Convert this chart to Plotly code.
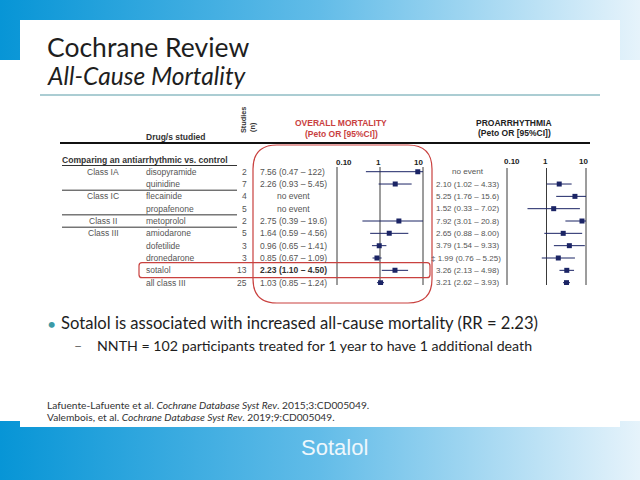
import math
import plotly.graph_objects as go

W, H = 640, 480

# ---------------- data ----------------
title_main = "Cochrane Review"
title_sub = "All-Cause Mortality"
footer_title = "Sotalol"

class_labels = ["Class IA", "", "Class IC", "", "Class II", "Class III", "", "", "", ""]
drugs = ["disopyramide", "quinidine", "flecainide", "propafenone", "metoprolol",
         "amiodarone", "dofetilide", "dronedarone", "sotalol", "all class III"]
studies = [2, 7, 4, 5, 2, 5, 3, 3, 13, 25]

mort_or = [7.56, 2.26, None, None, 2.75, 1.64, 0.96, 0.85, 2.23, 1.03]
mort_lo = [0.47, 0.93, None, None, 0.39, 0.59, 0.65, 0.67, 1.10, 0.85]
mort_hi = [122, 5.45, None, None, 19.6, 4.56, 1.41, 1.09, 4.50, 1.24]

pro_or = [None, 2.10, 5.25, 1.52, 7.92, 2.65, 3.79, 1.99, 3.26, 3.21]
pro_lo = [None, 1.02, 1.76, 0.33, 3.01, 0.88, 1.54, 0.76, 2.13, 2.62]
pro_hi = [None, 4.33, 15.6, 7.02, 20.8, 8.00, 9.33, 5.25, 4.98, 3.93]
pro_flag = ["", "", "", "", "", "", "", "‡ ", "", ""]

highlight_row = 8  # sotalol
axis_ticks = [0.1, 1, 10]
axis_ticktext = ["0.10", "1", "10"]

bullet_main = "Sotalol is associated with increased all-cause mortality (RR = 2.23)"
bullet_sub = "NNTH = 102 participants treated for 1 year to have 1 additional death"
refs = ["Lafuente-Lafuente et al. <i>Cochrane Database Syst Rev</i>. 2015;3:CD005049.",
        "Valembois, et al. <i>Cochrane Database Syst Rev</i>. 2019;9:CD005049."]

# ---------------- helpers ----------------
SLIDE_FONT = "Lato"
TAB_FONT = "Liberation Sans"
TAB_SIZE = 8.5
RED = "#c9413f"
NAVY = "#1b2465"


def px(x):
    return x / W


def py(y):
    return 1 - y / H


def fmt(v):
    if v >= 100:
        return f"{v:.0f}"
    if v >= 10:
        return f"{v:.1f}"
    return f"{v:.2f}"


fig = go.Figure()
annots = []
shapes = []


def text(t, x, y, size=TAB_SIZE, color="#555", xanchor="left", family=TAB_FONT,
         xref="paper", yref="paper", angle=0, xshift=0):
    annots.append(dict(text=t, x=x, y=y, xref=xref, yref=yref, showarrow=False,
                       xanchor=xanchor, yanchor="middle", textangle=angle,
                       xshift=xshift, borderpad=0,
                       font=dict(size=size, color=color, family=family)))


def hline(x0, x1, y, color="#000", width=1):
    shapes.append(dict(type="line", xref="paper", yref="paper", x0=px(x0), x1=px(x1),
                       y0=py(y), y1=py(y), line=dict(color=color, width=width)))


def rrect(x0, y0, x1, y1, r, color, width=1):
    pts = lambda X, Y: f"{px(X):.5f},{py(Y):.5f}"
    p = (f"M {pts(x0 + r, y0)} L {pts(x1 - r, y0)} Q {pts(x1, y0)} {pts(x1, y0 + r)} "
         f"L {pts(x1, y1 - r)} Q {pts(x1, y1)} {pts(x1 - r, y1)} "
         f"L {pts(x0 + r, y1)} Q {pts(x0, y1)} {pts(x0, y1 - r)} "
         f"L {pts(x0, y0 + r)} Q {pts(x0, y0)} {pts(x0 + r, y0)} Z")
    shapes.append(dict(type="path", xref="paper", yref="paper", path=p,
                       line=dict(color=color, width=width)))


# ---------------- background (pixel subplot xy) ----------------
grad = dict(type="horizontal", colorscale=[[0, "#0795d6"], [0.5, "#62bce8"], [1, "#e6f3fb"]])
for (ya, yb) in [(0, 60), (421, 480)]:
    fig.add_trace(go.Scatter(x=[0, 640, 640, 0, 0], y=[ya, ya, yb, yb, ya], mode="lines",
                             fill="toself", fillgradient=grad, line=dict(width=0),
                             xaxis="x", yaxis="y", hoverinfo="skip", showlegend=False))
fig.add_trace(go.Scatter(x=[20, 620, 620, 20, 20], y=[20, 20, 427, 427, 20], mode="lines",
                         fill="toself", fillcolor="white", line=dict(width=0),
                         xaxis="x", yaxis="y", hoverinfo="skip", showlegend=False))

# ---------------- forest plots ----------------
Y_TOP, Y_BOT = -0.381, 9.19


def forest(xa, ors, los, his, ytop):
    for v in axis_ticks:
        fig.add_trace(go.Scatter(x=[v, v], y=[ytop, Y_BOT], mode="lines",
                                 line=dict(color="#3a3a3a", width=1), xaxis=xa, yaxis="y2",
                                 hoverinfo="skip", showlegend=False))
    lx, ly, mx, my = [], [], [], []
    for i, (o, lo, hi) in enumerate(zip(ors, los, his)):
        if o is None:
            continue
        lx += [max(lo, axis_ticks[0]), min(hi, axis_ticks[-1]), None]
        ly += [i, i, None]
        mx.append(o)
        my.append(i)
    fig.add_trace(go.Scatter(x=lx, y=ly, mode="lines", line=dict(color=NAVY, width=1),
                             xaxis=xa, yaxis="y2", hoverinfo="skip", showlegend=False))
    fig.add_trace(go.Scatter(x=mx, y=my, mode="markers",
                             marker=dict(symbol="square", size=5, color=NAVY),
                             xaxis=xa, yaxis="y2", hoverinfo="skip", showlegend=False))


forest("x2", mort_or, mort_lo, mort_hi, Y_TOP)
forest("x3", pro_or, pro_lo, pro_hi, -0.30)

# tick labels
for v, t, s in zip(axis_ticks, axis_ticktext, [7, -2, -5]):
    text(f"<b>{t}</b>", math.log10(v), py(162), size=8, color="#222", xanchor="center",
         xref="x2", xshift=s)
for v, t, s in zip(axis_ticks, axis_ticktext, [5, -1.5, -3]):
    text(f"<b>{t}</b>", math.log10(v), py(161), size=8, color="#222", xanchor="center",
         xref="x3", xshift=s)

# ---------------- table text ----------------
for i in range(len(drugs)):
    if class_labels[i]:
        text(class_labels[i], px(103), i, xanchor="center", yref="y2")
    text(drugs[i], px(145), i, yref="y2")
    text(str(studies[i]), px(248), i, xanchor="right", yref="y2")
    if mort_or[i] is None:
        text("no event", px(293), i, xanchor="center", yref="y2")
    else:
        s = f"{fmt(mort_or[i])} ({fmt(mort_lo[i])} – {fmt(mort_hi[i])})"
        if i == highlight_row:
            text(f"<b>{s}</b>", px(258.5), i, yref="y2", color="#333")
        else:
            text(s, px(258.5), i, yref="y2")
    if pro_or[i] is None:
        text("no event", px(468), i, xanchor="center", yref="y2", size=8.1)
    else:
        s = f"{pro_flag[i]}{fmt(pro_or[i])} ({fmt(pro_lo[i])} – {fmt(pro_hi[i])})"
        text(s, px(501.5 if pro_flag[i] else 499.5), i, xanchor="right", yref="y2", size=8.0)

# separators
for (a, b) in [(1, 2), (3, 4), (4, 5)]:
    yy = 171.7 + 12.33 * (a + b) / 2
    hline(62, 237, yy, color="#333", width=1)

# headers
text("<b>Drug/s studied</b>", px(176), py(137.5), size=8.5, color="#333", xanchor="center")
text("<b>Studies</b>", px(243), py(120), size=7.3, color="#333", xanchor="center", angle=-90)
text("<b>(n)</b>", px(252), py(127), size=7.3, color="#333", xanchor="center", angle=-90)
hline(60, 590, 143, color="#111", width=2)
text("<b>OVERALL MORTALITY</b>", px(341), py(123.3), size=8.5, color=RED, xanchor="center")
text("<b>(Peto OR [95%CI])</b>", px(341), py(134), size=8.5, color=RED, xanchor="center")
text("<b>PROARRHYTHMIA</b>", px(514), py(122.7), size=8.5, color="#222", xanchor="center")
text("<b>(Peto OR [95%CI])</b>", px(514), py(133.3), size=8.5, color="#222", xanchor="center")
text("<b>Comparing an antiarrhythmic vs. control</b>", px(61), py(160), size=8.6, color="#333")
hline(62, 237, 165.5, color="#333", width=1)

# red boxes
rrect(253, 145, 432, 303, 24, RED, 1.2)
rrect(139, 262.7, 430, 277.7, 3, RED, 1.2)

# ---------------- slide text ----------------
text(title_main, px(46), py(47), size=26.5, color="#1e1e1e", family=SLIDE_FONT)
text(f"<i>{title_sub}</i>", px(46), py(75), size=24.5, color="#1e1e1e", family=SLIDE_FONT)
hline(40, 600, 95, color="#8fbcc4", width=1.5)

text("•", px(46), py(323), size=16, color="#3b9aa6", family=SLIDE_FONT)
text(bullet_main, px(60), py(323), size=16.6, color="#1e1e1e", family=SLIDE_FONT)
text("–", px(73), py(345), size=14, color="#666", family=SLIDE_FONT)
text(bullet_sub, px(96), py(345), size=14.2, color="#1e1e1e", family=SLIDE_FONT)
text(refs[0], px(46), py(405.3), size=10.2, color="#333", family=SLIDE_FONT)
text(refs[1], px(46), py(417), size=10.2, color="#333", family=SLIDE_FONT)

text(footer_title, px(334), py(447), size=22, color="#eef7fc", xanchor="center",
     family="Liberation Sans")

# ---------------- layout ----------------
dec = 1.05
fig.update_layout(
    width=W, height=H, margin=dict(l=0, r=0, t=0, b=0),
    paper_bgcolor="white", plot_bgcolor="rgba(0,0,0,0)",
    showlegend=False,
    xaxis=dict(domain=[0, 1], range=[0, 640], visible=False, fixedrange=True),
    yaxis=dict(domain=[0, 1], range=[480, 0], visible=False, fixedrange=True),
    xaxis2=dict(type="log", range=[-dec, dec],
                domain=[px(380 - 43 * dec), px(380 + 43 * dec)],
                anchor="y2", visible=False),
    xaxis3=dict(type="log", range=[-dec, dec],
                domain=[px(546.5 - 39.5 * dec), px(546.5 + 39.5 * dec)],
                anchor="y2", visible=False),
    yaxis2=dict(range=[Y_BOT, Y_TOP], domain=[py(285), py(167)], anchor="x2", visible=False),
    annotations=annots, shapes=shapes,
)

fig.write_html("out.html", config={"displayModeBar": False},
               post_script="document.body.style.margin='0';document.body.style.overflow='hidden';")
